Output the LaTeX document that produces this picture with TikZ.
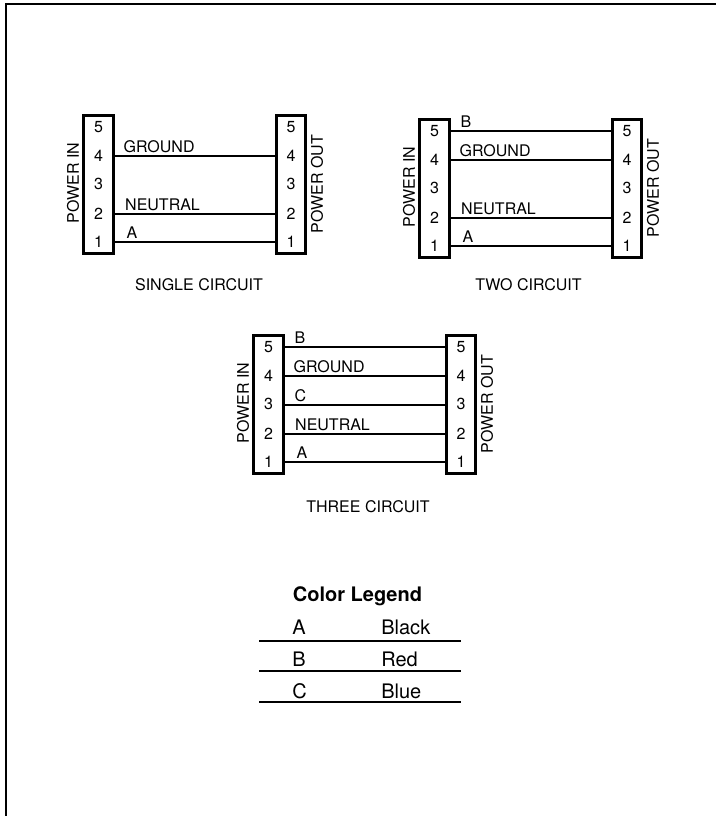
\documentclass[tikz,border=0pt]{standalone}
\usepackage{fontspec}
\setmainfont{TeX Gyre Heros}

\begin{document}
\begin{tikzpicture}[x=.75pt,y=-.75pt,font=\fontsize{12}{14}\selectfont,
   connbox/.style={draw,line width=2.3pt,minimum width=22pt,minimum height=104pt,inner sep=0pt},
   pinnum/.style={minimum width=22pt,minimum height=12pt,inner sep=0pt},
   wire/.style={line width=2pt},
   wirelabel/.style={anchor=west,inner sep=0pt},
   sidelabel/.style={rotate=90,inner sep=0pt},
   legendtext/.style={anchor=west,inner sep=0pt,font=\fontsize{15}{18}\selectfont}]
   \useasboundingbox (0,0) rectangle (716,816);
   \draw[line width=1.9pt] (6,816) -- (6,4) -- (716,4);
   % the three pairs of connectors
   \foreach \cn/\dx/\dy in {s/0/0,t/336/4,u/170/220} {
      \begin{scope}[shift={(\dx,\dy)}]
         \node[connbox] (\cn-inbox) at (98.5,184.5) {};
         \node[connbox] (\cn-outbox) at (291,184.5) {};
         \foreach \n/\y/\r in {5/127/0,4/156/.5,3/185/2,2/214/0,1/242/.5} {
            \node[pinnum] (\cn-in\n) at (98.5,\y) {\raisebox{\r pt}{\n}};
            \node[pinnum] (\cn-out\n) at (291,\y) {\raisebox{\r pt}{\n}};
         }
         \node[sidelabel] (\cn-powerin) at (73,183) {POWER IN};
         \node[sidelabel] (\cn-powerout) at (317,184) {POWER OUT};
      \end{scope}
   }
   % wires, each with its label
   \foreach \cn/\n/\off/\txt in {s/4/10/GROUND,s/2/11.5/NEUTRAL,s/1/13/A,
         t/5/11/B,t/4/10/GROUND,t/2/11.5/NEUTRAL,t/1/13/A,
         u/5/11/B,u/4/10/GROUND,u/3/11/C,u/2/11.5/NEUTRAL,u/1/13/A} {
      \draw[wire] (\cn-in\n) -- (\cn-out\n);
      \node[wirelabel] (\cn-label\n) at ([shift={(\off,-9.5)}]\cn-in\n.east) {\txt};
   }
   \node (s-title) at (199,285) {SINGLE CIRCUIT};
   \node (t-title) at (528.5,285) {TWO CIRCUIT};
   \node (u-title) at (368,507) {THREE CIRCUIT};
   % legend
   \node[font=\fontsize{15}{18}\selectfont\bfseries] (legend) at (357.5,596) {Color Legend};
   \foreach \k/\col/\y in {A/Black/627,B/Red/659,C/Blue/691} {
      \node[legendtext] (key\k) at (292,\y) {\k};
      \node[legendtext] (name\k) at (381,\y) {\col};
   }
   \foreach \y in {641,671,702} \draw[wire] (259,\y) -- (461,\y);
\end{tikzpicture}
\end{document}
